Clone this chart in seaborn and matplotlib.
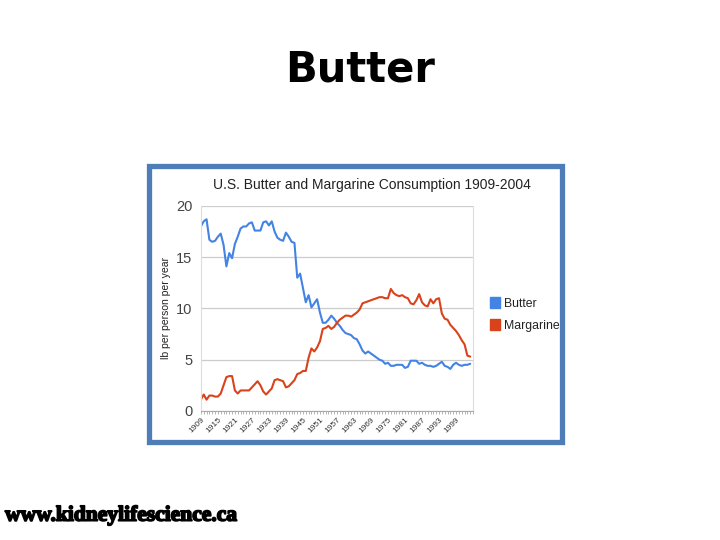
import numpy as np
import pandas as pd
import matplotlib
matplotlib.use("Agg")
import matplotlib.pyplot as plt
import matplotlib.patheffects as pe
import seaborn as sns
from matplotlib.patches import Rectangle, Patch
from matplotlib.ticker import MultipleLocator

# Data (lb per person per year)
years = list(range(1909, 2005))
butter = [
    18.0, 18.5, 18.7, 16.7, 16.5, 16.6, 17.0, 17.3, 16.2, 14.1,  # 1909-1918
    15.4, 14.9, 16.3, 17.0, 17.8, 18.0, 18.0, 18.3, 18.4, 17.6,  # 1919-1928
    17.6, 17.6, 18.4, 18.5, 18.1, 18.5, 17.5, 16.9, 16.7, 16.6,  # 1929-1938
    17.4, 17.0, 16.5, 16.4, 13.0, 13.4, 12.0, 10.6, 11.3, 10.1,  # 1939-1948
    10.5, 10.9, 9.6, 8.6, 8.6, 8.9, 9.3, 9.0, 8.6, 8.3,          # 1949-1958
    7.9, 7.6, 7.5, 7.4, 7.1, 7.0, 6.5, 5.9, 5.6, 5.8,            # 1959-1968
    5.6, 5.4, 5.2, 5.0, 4.9, 4.6, 4.7, 4.4, 4.4, 4.5,            # 1969-1978
    4.5, 4.5, 4.2, 4.3, 4.9, 4.9, 4.9, 4.6, 4.7, 4.5,            # 1979-1988
    4.4, 4.4, 4.3, 4.4, 4.6, 4.8, 4.4, 4.3, 4.1, 4.5,            # 1989-1998
    4.7, 4.5, 4.4, 4.5, 4.5, 4.6,                                # 1999-2004
]
margarine = [
    1.1, 1.6, 1.1, 1.5, 1.5, 1.4, 1.4, 1.7, 2.5, 3.3,            # 1909-1918
    3.4, 3.4, 2.0, 1.7, 2.0, 2.0, 2.0, 2.0, 2.3, 2.6,            # 1919-1928
    2.9, 2.5, 1.9, 1.6, 1.9, 2.2, 3.0, 3.1, 3.0, 2.9,            # 1929-1938
    2.3, 2.4, 2.7, 3.0, 3.6, 3.7, 3.9, 3.9, 5.2, 6.1,            # 1939-1948
    5.8, 6.2, 6.8, 8.0, 8.1, 8.3, 8.0, 8.2, 8.6, 8.9,            # 1949-1958
    9.1, 9.3, 9.3, 9.2, 9.4, 9.6, 9.9, 10.5, 10.6, 10.7,         # 1959-1968
    10.8, 10.9, 11.0, 11.1, 11.1, 11.0, 11.0, 11.9, 11.5, 11.3,  # 1969-1978
    11.2, 11.3, 11.1, 11.0, 10.5, 10.4, 10.8, 11.4, 10.6, 10.3,  # 1979-1988
    10.2, 10.9, 10.5, 10.9, 11.0, 9.5, 9.0, 8.9, 8.4, 8.1,       # 1989-1998
    7.8, 7.4, 6.9, 6.5, 5.4, 5.3,                                # 1999-2004
]
series_names = ["Butter", "Margarine"]
series_colors = ["#4283e4", "#d8431c"]
tick_years = list(range(1909, 2000, 6))

df = pd.DataFrame({
    "year": years * 2,
    "value": butter + margarine,
    "series": ["Butter"] * len(years) + ["Margarine"] * len(years),
})

sns.set_style("white")
plt.rcParams["font.family"] = ["Liberation Sans", "DejaVu Sans"]

fig = plt.figure(figsize=(7.2, 5.4), dpi=100)
fig.patch.set_facecolor("white")

# slide title and footer
fig.text(0.5, 0.872, "Butter", ha="center", va="center", fontsize=30,
         fontweight="bold", family="DejaVu Sans", color="black")
fig.text(0.007, 0.045, "www.kidneylifescience.ca", ha="left", va="center",
         fontsize=15.5, fontweight="bold", family="Liberation Serif", color="black",
         path_effects=[pe.withStroke(linewidth=1.2, foreground="black")])

# blue frame around the chart image
fig.patches.append(Rectangle((0.2065, 0.181), 0.5735, 0.511, transform=fig.transFigure,
                             fill=False, edgecolor="#4f7db8", linewidth=3.8))

ax = fig.add_axes([0.279, 0.239, 0.378, 0.3796])
sns.lineplot(data=df, x="year", y="value", hue="series", hue_order=series_names,
             palette=series_colors, linewidth=1.5, legend=False, ax=ax)

ax.set_xlim(1909, 2005)
ax.set_ylim(0, 20)
ax.yaxis.set_major_locator(MultipleLocator(5))
ax.set_xticks(tick_years)
ax.set_xticklabels([str(y) for y in tick_years], rotation=45, ha="right",
                   rotation_mode="anchor", fontsize=6, color="#333333")
ax.xaxis.set_minor_locator(MultipleLocator(1))
ax.tick_params(axis="x", which="both", bottom=True, length=2, width=0.6,
               color="#aaaaaa", pad=1.5)
ax.tick_params(axis="y", labelsize=10.5, colors="#444444", length=0, pad=6)
ax.grid(axis="y", color="#cccccc", linewidth=0.9)
ax.set_axisbelow(True)
for side in ["left", "right", "top"]:
    ax.spines[side].set_color("#dddddd")
    ax.spines[side].set_linewidth(0.8)
ax.spines["top"].set_visible(False)
ax.spines["bottom"].set_color("#aaaaaa")
ax.set_xlabel("")
ax.set_ylabel("lb per person per year", fontsize=7.5, color="#222222", labelpad=4)

ax.set_title("U.S. Butter and Margarine Consumption 1909-2004", fontsize=10,
             color="#222222", pad=12, x=0.63)

handles = [Patch(facecolor=c, edgecolor=c) for c in series_colors]
leg = ax.legend(handles, series_names, loc="center left", bbox_to_anchor=(1.04, 0.47),
                frameon=False, fontsize=8.8, handlelength=0.8, handleheight=0.9,
                handletextpad=0.35, labelspacing=0.8, borderpad=0)
for t in leg.get_texts():
    t.set_color("#222222")

fig.savefig("out.png", dpi=100, facecolor="white")
